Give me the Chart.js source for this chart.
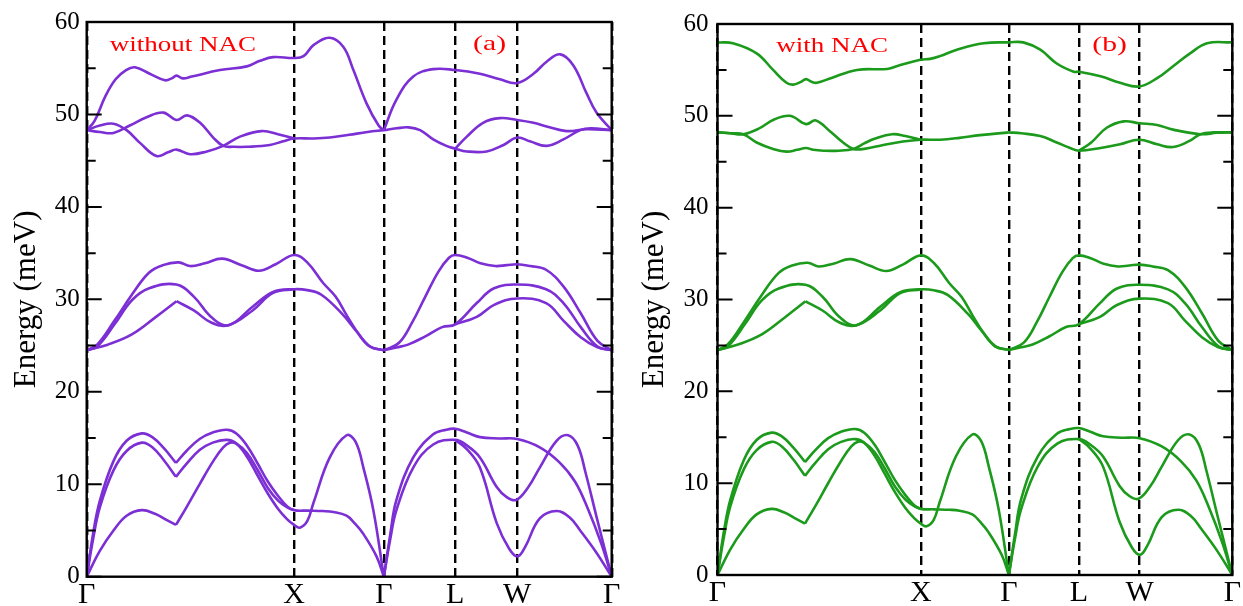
<!DOCTYPE html>
<html>
<head>
<meta charset="utf-8">
<script src="https://cdn.jsdelivr.net/npm/chart.js@4.4.1/dist/chart.umd.min.js"></script>
<style>
  body { margin: 0; background: #fff; width: 1243px; height: 606px; overflow: hidden; position: relative; }
  canvas { position: absolute; top: 0; }
  #left { left: 0; }
  #right { left: 620px; }
</style>
</head>
<body>
<canvas id="left" width="625" height="606"></canvas>
<canvas id="right" width="623" height="606"></canvas>
<script>
// high symmetry points along the path (path length in % of total)
const kTicks = [0, 39.5, 56.6, 70.2, 82.0, 100];
const kLabels = ['Γ', 'X', 'Γ', 'L', 'W', 'Γ'];

// acoustic branches, [k, meV], same in both panels
const acousticBands = [
  [[0,0],[1.2,4.6],[2.5,8.2],[5.1,12.5],[7.6,14.7],[10.5,15.5],[12.5,15.1],[14.7,13.9],[17,12.3]],
  [[17,12.3],[19,13.6],[21.5,14.9],[24,15.6],[26.7,15.9],[28.5,15.5],[30.5,14.2],[32.5,12.3],[34.5,10.3],[36.5,8.7],[38.2,7.6],[39.5,7.2],[42,7.15],[45,7.1],[47,7.0],[49.5,6.6],[51,5.8],[52.6,4.7],[55.2,2.2],[56.6,0]],
  [[0,0],[1.2,4.0],[2.5,7.5],[5.1,11.5],[7.6,13.6],[10.5,14.5],[12.5,14.0],[14.7,12.6],[17,10.8]],
  [[17,10.8],[19,12.2],[21.5,13.7],[24,14.5],[26.7,14.8],[28.5,14.4],[30.5,13.0],[32.5,11.0],[34.5,9.0],[36.5,7.3],[38.2,6.2],[39.5,5.6],[40.6,5.3],[42,6.0],[43.2,8.0],[46.3,12.9],[49.5,15.3],[51.2,14.6],[52.7,11.8],[54.6,7.2],[56.6,0]],
  [[0,0],[2.5,2.8],[5.1,5.0],[7.6,6.6],[10.5,7.2],[13,6.8],[15,6.2],[17,5.6]],
  [[17,5.6],[19,7.5],[21.6,10.1],[24.1,12.5],[26,14.0],[27.3,14.5],[28.5,14.4],[30.5,13.4],[32.5,11.6],[34.5,9.6],[36.5,8.2],[38.2,7.5],[39.5,7.2]],
  [[56.6,0],[57.8,4.5],[59,8.3],[62.2,12.9],[66,15.4],[68.5,15.9],[70.2,16.0],[72.4,15.6],[74.9,15.1],[78.5,14.95],[82,14.9],[86.3,14.0],[90,12.4],[93,10.3],[95.5,7.3],[98,3.6],[100,0]],
  [[56.6,0],[57.8,4.0],[59,7.2],[62.2,11.8],[66,14.3],[70.2,14.8],[72.4,14.2],[74.9,12.9],[78.1,9.7],[80,8.6],[81.8,8.3],[84,9.6],[86.3,11.8],[89.5,14.7],[91.7,15.3],[93.5,14.2],[95,11.3],[97.1,6.5],[100,0]],
  [[70.2,14.8],[72.4,13.8],[74.9,11.8],[78.1,5.8],[80.5,3.0],[82.1,2.2],[83.5,3.2],[86.3,6.3],[89.5,7.1],[92,6.4],[94,5.0],[97.1,2.6],[100,0]]
];

// middle optical group, same in both panels
const midBands = [
  [[0,24.5],[2,25.1],[5.3,27.7],[8.6,30.5],[11.9,32.9],[14.5,33.7],[17.5,34.0],[19.7,33.6],[22.5,33.9],[25.8,34.4],[29.5,33.7],[32.8,33.1],[36,33.8],[39.5,34.8],[42,34.0],[45,31.8],[47.4,30.3],[49.5,28.3],[51.5,26.5],[54,24.9],[56.6,24.5]],
  [[0,24.5],[2,24.9],[5.3,27.3],[8.6,29.9],[11.9,31.2],[17.1,31.6],[20.4,30.3],[23.7,28.1],[27,27.2],[31.6,29.2],[35.5,30.8],[39.5,31.1],[42,31.0],[44.7,30.5],[48.7,28.4],[51.3,26.6],[53.9,24.9],[56.6,24.5]],
  [[0,24.5],[4,25.1],[8.6,26.2],[13.2,28.1],[17.1,29.8]],
  [[17.1,29.8],[20.4,28.8],[23.7,27.5],[27,27.2],[31.6,28.8],[35.5,30.7],[39.5,31.1]],
  [[56.6,24.5],[59.5,25.3],[62,27.5],[64.5,30.3],[67,33.0],[69,34.5],[70.2,34.8],[72.5,34.5],[75,33.9],[77.8,33.6],[80,33.7],[82,33.8],[84.5,33.6],[87.5,33.2],[90.8,31.4],[94.1,28.5],[97.3,25.5],[100,24.5]],
  [[56.6,24.5],[59,24.8],[61.2,25.1],[64.5,26.0],[67.7,27.0],[70.2,27.3],[74.3,29.6],[77.6,31.2],[82,31.6],[87.5,31.1],[90.8,29.6],[94.1,27.0],[97.3,24.9],[100,24.5]],
  [[70.2,27.3],[74.3,28.1],[77.6,29.4],[82,30.1],[87.5,29.6],[90.8,27.7],[94.1,25.9],[97.3,24.8],[100,24.5]]
];

// upper group without NAC (a)
const topBandsA = [
  [[0,48.3],[1.5,49.3],[3.5,51.9],[5.5,53.8],[7.5,54.8],[9.2,55.1],[12,54.4],[14.9,53.7],[16.2,53.9],[17.1,54.2],[18.3,53.9],[20,54.1],[25.4,54.8],[30.5,55.2],[33,55.8],[35.5,56.2],[39.5,56.1],[41.3,56.3],[43.2,57.5],[46.3,58.3],[48.9,57.3],[50.8,54.8],[53.3,51.2],[55.6,48.8],[56.6,48.3]],
  [[56.6,48.3],[59,51.6],[62.2,54.1],[66,54.9],[70.2,54.8],[74.9,54.4],[78.7,53.8],[82,53.4],[85.1,54.4],[87.6,55.7],[90.2,56.5],[92.7,55.3],[95.2,52.3],[97.1,50.2],[100,48.3]],
  [[0,48.3],[2.5,48.1],[5.1,48.0],[8.2,48.8],[11.4,49.7],[14.6,50.2],[17.1,49.4],[19.1,49.9],[21.6,49.1],[24.1,47.5],[26,46.6],[28,46.5],[30.5,46.5],[34.9,46.7],[37.4,47.1],[39.5,47.4],[43,47.4],[46.3,47.5],[50,47.8],[53.5,48.1],[56.6,48.3]],
  [[0,48.3],[2.5,48.8],[5.1,49.0],[7.6,48.3],[10.2,46.9],[13.3,45.5],[15.5,45.9],[17.1,46.2],[19.7,45.7],[22.9,46.0],[26,46.6],[29.2,47.6],[33.3,48.2],[36.8,47.8],[39.5,47.4]],
  [[56.6,48.3],[59,48.5],[61.3,48.6],[63.5,48.3],[66,47.3],[68.5,46.6],[70.2,46.3],[72.4,46.0],[76.2,46.0],[79.4,46.7],[82,47.5],[84.4,47.1],[87.6,46.6],[90.8,47.3],[94,48.3],[96,48.5],[100,48.3]],
  [[70.2,46.3],[72.4,47.6],[75.5,49.1],[78.7,49.6],[82,49.4],[85.1,49.1],[87.6,48.7],[91.4,48.2],[95.2,48.4],[100,48.3]]
];

// upper group with NAC (b)
const topBandsB = [
  [[0,58.0],[3,57.9],[7.6,56.8],[10.8,55.0],[13.4,53.6],[14.7,53.4],[16.2,53.7],[17.2,54.0],[18.3,53.7],[19.3,53.6],[22,54.1],[27.1,55.0],[32.9,55.1],[34.8,55.4],[39.4,56.1],[41.3,56.2],[43.2,56.5],[46.5,57.2],[51.7,57.9],[56.6,58.0],[59.4,58.0],[62.7,57.2],[65.9,55.7],[69.2,54.8],[70.2,54.8],[74.4,54.3],[78.2,53.6],[81.9,53.2],[85.4,54.1],[88.5,55.4],[91.8,56.8],[95.1,57.9],[100,58.0]],
  [[0,48.2],[2.5,48.1],[5,48.0],[8,48.6],[11,49.6],[14.1,50.0],[17.2,49.1],[19.1,49.5],[21.9,48.3],[24.4,47.1],[26.4,46.4],[28.5,46.4],[32,46.8],[36,47.2],[39.4,47.4],[43.2,47.4],[47,47.6],[51,47.9],[56.6,48.2]],
  [[0,48.2],[2.5,48.1],[5,48.0],[7.6,47.1],[10.8,46.4],[13.4,46.1],[15.5,46.3],[17.2,46.5],[18.6,46.3],[20.6,46.2],[23.5,46.2],[26.4,46.4],[28.5,47.0],[30.5,47.5],[33.9,48.0],[36.5,47.8],[39.4,47.4]],
  [[56.6,48.2],[59,48.1],[62.7,47.8],[65.9,47.1],[68.5,46.5],[70.2,46.2],[74.4,46.5],[78.2,46.9],[81.9,47.4],[85.4,46.9],[88.5,46.6],[91.8,47.3],[93.8,48.0],[96.5,48.2],[100,48.2]],
  [[70.2,46.2],[72.6,47.1],[75.6,48.7],[78.9,49.4],[81.9,49.2],[85.4,49.0],[88.5,48.5],[93.8,48.0],[97,48.15],[100,48.2]]
];

const serif = '"Liberation Serif", "Times New Roman", serif';

// frame, inward ticks and red notes
const framePlugin = {
  id: 'frame',
  afterDraw(chart, args, opts) {
    const {ctx, chartArea: a} = chart;
    const y = chart.scales.y, x = chart.scales.x;
    ctx.save();
    ctx.strokeStyle = '#000';
    ctx.lineWidth = 2.4;
    ctx.strokeRect(a.left, a.top, a.right - a.left, a.bottom - a.top);
    ctx.lineWidth = 2;
    for (let v = 0; v <= 60; v += 5) {
      const py = y.getPixelForValue(v);
      const len = v % 10 === 0 ? 15 : 9;
      ctx.beginPath();
      ctx.moveTo(a.left, py); ctx.lineTo(a.left + len, py);
      ctx.moveTo(a.right, py); ctx.lineTo(a.right - len, py);
      ctx.stroke();
    }
    ctx.fillStyle = '#ff0000';
    ctx.textBaseline = 'alphabetic';
    for (const n of opts.notes) {
      ctx.save();
      ctx.translate(x.getPixelForValue(n.k), y.getPixelForValue(n.e));
      ctx.scale(1.35, 1);
      ctx.font = n.size + 'px ' + serif;
      ctx.fillText(n.text, 0, 0);
      ctx.restore();
    }
    ctx.restore();
  }
};

function makeChart(id, groups, color, p) {
  const datasets = [];
  groups.forEach(g => g.forEach(piece => {
    datasets.push({
      data: piece.map(([k, e]) => ({x: k, y: e})),
      borderColor: color,
      borderWidth: 2.6,
      pointRadius: 0,
      fill: false,
      tension: 0.4
    });
  }));
  return new Chart(document.getElementById(id), {
    type: 'line',
    data: {datasets},
    plugins: [framePlugin],
    options: {
      responsive: false,
      animation: false,
      devicePixelRatio: 1,
      layout: {padding: {top: p.top, right: p.right, left: 0, bottom: 0}},
      plugins: {
        legend: {display: false},
        tooltip: {enabled: false},
        frame: {notes: p.notes}
      },
      scales: {
        x: {
          type: 'linear',
          min: 0, max: 100,
          afterBuildTicks: s => { s.ticks = kTicks.map(v => ({value: v})); },
          afterFit: s => { s.height = p.xh; },
          ticks: {
            autoSkip: false, maxRotation: 0, padding: 0,
            color: '#000',
            font: {family: serif, size: 30},
            callback: (v, i) => kLabels[i]
          },
          grid: {color: '#000', lineWidth: 2.4, drawTicks: false},
          border: {display: false, dash: [9, 5]}
        },
        y: {
          min: 0, max: 60,
          afterFit: s => { s.width = p.yw; },
          ticks: {stepSize: 10, padding: p.tickPad, color: '#000', font: {family: serif, size: 25}},
          grid: {display: false, drawTicks: false},
          border: {display: false},
          title: {display: true, text: 'Energy (meV)', color: '#000',
                  font: {family: serif, size: 31}, padding: {top: p.titlePad}}
        }
      }
    }
  });
}

makeChart('left', [acousticBands, midBands, topBandsA], '#7b2fd4', {
  top: 18.3, right: 13.3, xh: 29.3, yw: 86.7, tickPad: 7, titlePad: 8,
  notes: [{text: 'without NAC', k: 4.4, e: 56.9, size: 20}, {text: '(a)', k: 73.6, e: 57.0, size: 22}]
});
makeChart('right', [acousticBands, midBands, topBandsB], '#1c9a1c', {
  top: 20.7, right: 10.7, xh: 31, yw: 97.5, tickPad: 9, titlePad: 16,
  notes: [{text: 'with NAC', k: 11.4, e: 57.0, size: 20}, {text: '(b)', k: 72.8, e: 57.1, size: 22}]
});
</script>
</body>
</html>
